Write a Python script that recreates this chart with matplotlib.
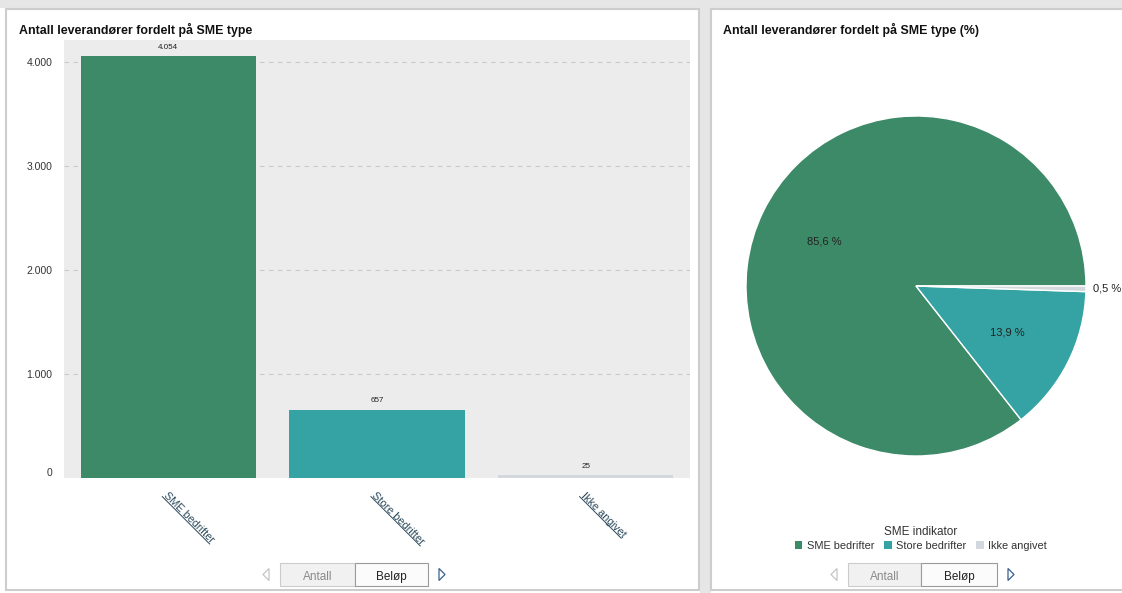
import matplotlib
matplotlib.use("Agg")
import matplotlib.pyplot as plt
import numpy as np
from matplotlib.patches import Rectangle, FancyBboxPatch, Polygon, Patch
from matplotlib.lines import Line2D
from matplotlib.ticker import FuncFormatter

plt.rcParams['font.family'] = ['Liberation Sans', 'DejaVu Sans']

# data
categories = ["SME bedrifter", "Store bedrifter", "Ikke angivet"]
antall = [4054, 657, 25]
pct_labels = ["85,6 %", "13,9 %", "0,5 %"]
colors = ["#3d8a68", "#35a3a4", "#d3d8df"]
yticks = [0, 1000, 2000, 3000, 4000]

W, H = 1122, 593
fig = plt.figure(figsize=(W / 100, H / 100), dpi=100)
fig.patch.set_facecolor("white")


def fx(x):
    return x / W


def fy(y):
    return 1 - y / H


def rect(x0, y0, x1, y1, **kw):
    r = Rectangle((fx(x0), fy(y1)), fx(x1 - x0), (y1 - y0) / H, transform=fig.transFigure,
                  zorder=-10, **kw)
    fig.patches.append(r)


# page background + panel frames
rect(0, 0, W, 8, facecolor="#e6e6e6", edgecolor="none")
rect(700, 0, 711, 593, facecolor="#e6e6e6", edgecolor="none")
rect(6, 9, 699, 590, facecolor="white", edgecolor="#cdcdcd", lw=1.5)
rect(711, 9, W + 5, 590, facecolor="white", edgecolor="#cdcdcd", lw=1.5)

fig.text(fx(19), fy(30), "Antall leverandører fordelt på SME type", fontsize=8.9,
         fontweight="bold", color="#111111", va="center")
fig.text(fx(723), fy(30), "Antall leverandører fordelt på SME type (%)", fontsize=8.9,
         fontweight="bold", color="#111111", va="center")

# ---- bar chart ----
ax = fig.add_axes([fx(64), fy(478), fx(690 - 64), (478 - 40) / H])
ax.set_facecolor("#ececec")
x = np.arange(len(categories))
ax.bar(x, antall, width=0.84, color=colors, zorder=2)
for xi, v in zip(x, antall):
    ax.text(xi, v + 50, f"{v:,}".replace(",", "."), ha="center", va="bottom",
            fontsize=5.8, color="#222222", zorder=3)
ax.set_xlim(-0.5, len(categories) - 0.5)
ax.set_ylim(0, 4210)
ax.set_yticks(yticks)
ax.yaxis.set_major_formatter(FuncFormatter(lambda v, p: f"{int(v):,}".replace(",", ".")))
ax.tick_params(axis="y", length=0, pad=8.5, labelsize=7.5, labelcolor="#333333")
ax.get_yticklabels()[0].set_va("bottom")
ax.set_xticks(x)
ax.set_xticklabels(categories, rotation=-45, ha="left", va="top", rotation_mode="anchor",
                   fontsize=7.8, color="#2c4a5c")
ax.tick_params(axis="x", length=0, pad=9)
for s in ax.spines.values():
    s.set_visible(False)
for t in yticks[1:]:
    ax.axhline(t, color="#c9c9c9", lw=0.8, ls=(0, (4, 4)), zorder=1)

# underline the category labels
fig.canvas.draw()
renderer = fig.canvas.get_renderer()
c45 = np.sqrt(0.5)
for lab in ax.get_xticklabels():
    lab.set_rotation(0)
    bb0 = lab.get_window_extent(renderer)
    w, h = bb0.width, bb0.height
    lab.set_rotation(-45)
    bb = lab.get_window_extent(renderer)
    ax0, ay0 = bb.x0 + c45 * h, bb.y1
    d = 0.86 * h
    sx, sy = ax0 - c45 * d, ay0 - c45 * d
    ex, ey = sx + c45 * w, sy - c45 * w
    fig.lines.append(Line2D([sx / W, ex / W], [sy / H, ey / H], transform=fig.transFigure,
                            color="#2c4a5c", lw=0.7))

# ---- pie chart ----
pax = fig.add_axes([fx(746), fy(456), fx(340), 340 / H])
wedges, _ = pax.pie(antall, colors=colors, startangle=0, counterclock=True,
                    wedgeprops=dict(edgecolor="white", linewidth=1))
pax.set_xlim(-1, 1)
pax.set_ylim(-1, 1)
pax.set_aspect("equal")
for wdg, lbl, v in zip(wedges, pct_labels, antall):
    mid = np.deg2rad((wdg.theta1 + wdg.theta2) / 2)
    if v / sum(antall) > 0.05:
        pax.text(0.6 * np.cos(mid), 0.6 * np.sin(mid), lbl, ha="center", va="center",
                 fontsize=8, color="#222222")
    else:
        pax.text(1.04 * np.cos(mid), 1.04 * np.sin(mid), lbl, ha="left", va="center",
                 fontsize=8, color="#222222", clip_on=False)

handles = [Patch(facecolor=c, edgecolor="none") for c in colors]
leg = fig.legend(handles, categories, title="SME indikator", loc="upper center",
                 bbox_to_anchor=(fx(921), fy(521)), ncol=3, frameon=False, fontsize=7.9,
                 title_fontsize=8.5, handlelength=0.7, handleheight=0.7, handletextpad=0.4,
                 columnspacing=0.9, borderpad=0, labelspacing=0.2)
leg.get_title().set_color("#333333")
for t in leg.get_texts():
    t.set_color("#333333")


# ---- Antall / Beløp buttons ----
def buttons(xl, xm, xr, y0, y1):
    fig.patches.append(FancyBboxPatch((fx(xl), fy(y1)), fx(xm - xl), (y1 - y0) / H,
                                      boxstyle="square,pad=0", transform=fig.transFigure,
                                      facecolor="#f1f1f1", edgecolor="#cccccc", lw=0.8))
    fig.patches.append(FancyBboxPatch((fx(xm), fy(y1)), fx(xr - xm), (y1 - y0) / H,
                                      boxstyle="square,pad=0", transform=fig.transFigure,
                                      facecolor="#fbfbfb", edgecolor="#9a9a9a", lw=0.8))
    yc = (y0 + y1) / 2
    fig.text(fx((xl + xm) / 2), fy(yc + 1), "Antall", ha="center", va="center_baseline",
             fontsize=8.5, color="#8a8a8a")
    fig.text(fx((xm + xr) / 2), fy(yc + 1), "Beløp", ha="center", va="center_baseline",
             fontsize=8.5, color="#222222")
    lx = xl - 14
    fig.patches.append(Polygon([(fx(lx + 3), fy(yc - 6)), (fx(lx - 3), fy(yc)), (fx(lx + 3), fy(yc + 6))],
                               closed=True, transform=fig.transFigure, facecolor="white",
                               edgecolor="#c4c4c4", lw=0.9))
    rx = xr + 14
    fig.patches.append(Polygon([(fx(rx - 3), fy(yc - 6)), (fx(rx + 3), fy(yc)), (fx(rx - 3), fy(yc + 6))],
                               closed=True, transform=fig.transFigure, facecolor="white",
                               edgecolor="#3a5f8f", lw=0.9))


buttons(280, 355, 428, 563, 586)
buttons(848, 921, 997, 563, 586)

fig.savefig("out.png", dpi=100, facecolor=fig.get_facecolor())
